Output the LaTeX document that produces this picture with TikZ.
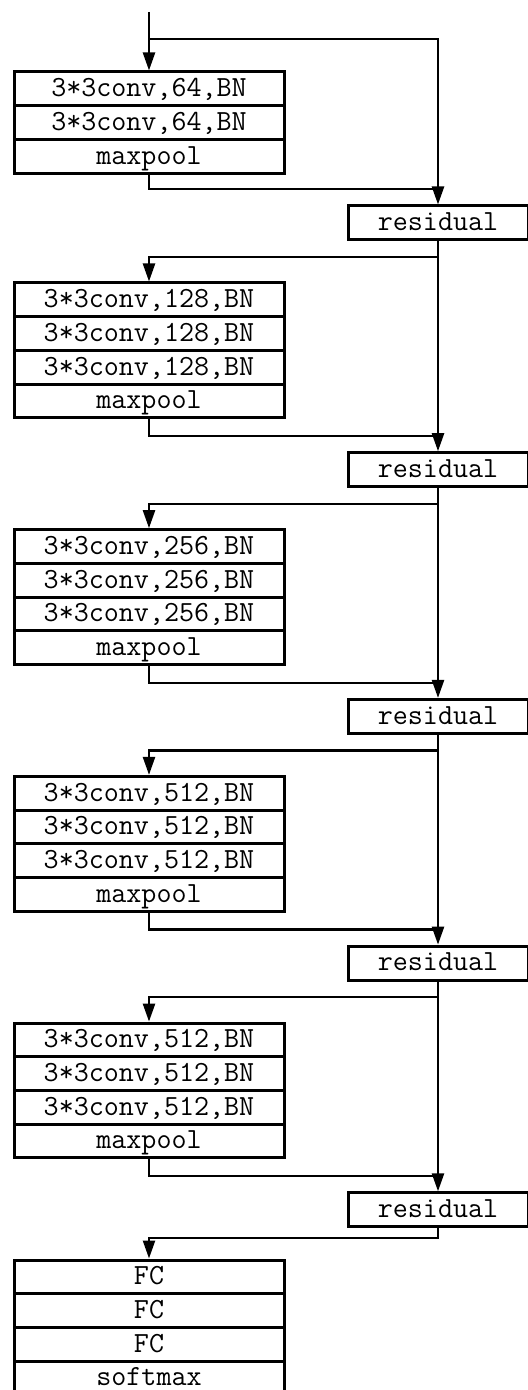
\documentclass[tikz,border=0pt]{standalone}
\usepackage{fontspec}
\usetikzlibrary{arrows.meta}

\tikzset{
  layer/.style={draw, line width=1.5pt, minimum width=135pt, minimum height=16.85pt,
    inner sep=0pt, font=\ttfamily\fontsize{14.6}{16}\selectfont,
    text height=10.3pt, text depth=2.5pt},
  resbox/.style={layer, minimum width=90pt, minimum height=17pt},
  link/.style={line width=1.2pt},
  flow/.style={link, -{Triangle[length=9pt,width=6pt]}}
}

\begin{document}
\begin{tikzpicture}[x=0.5pt,y=-0.5pt]
\useasboundingbox (0,0) rectangle (528,1390);

% input and first block
\coordinate (in) at (149,12);
\coordinate (s1) at (149,39);
\node[layer] (b1-1) at (149,88.85) {3*3conv,64,BN};
\node[layer] (b1-2) at (149,122.55) {3*3conv,64,BN};
\node[layer] (b1-3) at (149,156.25) {maxpool};
\coordinate (j1) at (438,189);

% residual boxes
\foreach \k in {1,...,5}
  \node[resbox] (res\k) at (438,{223+246.7*(\k-1)}) {residual};

\draw[flow] (in) -- (b1-1.north);
\draw[flow] (s1) -| (res1.north);
\draw[link] (b1-3.south) |- (j1);

% middle blocks
\foreach \k/\ch in {2/128,3/256,4/512,5/512} {
  \pgfmathtruncatemacro{\p}{\k-1}
  \pgfmathsetmacro{\ytop}{283+246.7*(\k-2)}
  \node[layer] (b\k-1) at (149,\ytop+16.85) {3*3conv,\ch,BN};
  \node[layer] (b\k-2) at (149,\ytop+50.55) {3*3conv,\ch,BN};
  \node[layer] (b\k-3) at (149,\ytop+84.25) {3*3conv,\ch,BN};
  \node[layer] (b\k-4) at (149,\ytop+117.95) {maxpool};
  \coordinate (s\k) at (438,\ytop-26);
  \coordinate (j\k) at (438,\ytop+153);
  \draw[flow] (res\p.south) -- (res\k.north);
  \draw[flow] (s\k) -| (b\k-1.north);
  \draw[link] (b\k-4.south) |- (j\k);
}

% classifier
\node[layer] (fc1) at (149,1276.85) {FC};
\node[layer] (fc2) at (149,1310.55) {FC};
\node[layer] (fc3) at (149,1344.25) {FC};
\node[layer] (out) at (149,1377.95) {softmax};
\coordinate (s6) at (438,1238);
\draw[flow] (res5.south) -- (s6) -| (fc1.north);

\end{tikzpicture}
\end{document}
